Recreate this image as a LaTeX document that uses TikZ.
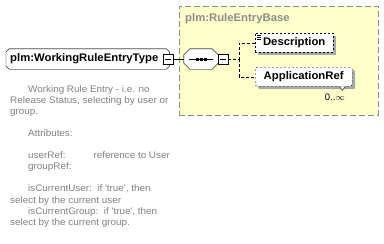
\documentclass[tikz,border=0pt]{standalone}
\usepackage{fontspec}
\setmainfont{Liberation Sans}
\newfontfamily\titlefont[FakeStretch=1.03]{Liberation Sans}
\newfontfamily\docfont[FakeStretch=1.04]{Liberation Sans}
\usetikzlibrary{shadows}
\definecolor{boxyellow}{HTML}{FFFFCC}
\definecolor{boxedge}{HTML}{8C8C8C}
\definecolor{shade}{HTML}{A8A8A8}
\definecolor{doctext}{HTML}{808080}
\newcommand\octpath[2]{([xshift=#2pt]#1.north west) -- ([xshift=-#2pt]#1.north east) -- ([yshift=-#2pt]#1.north east)
  -- ([yshift=#2pt]#1.south east) -- ([xshift=-#2pt]#1.south east) -- ([xshift=#2pt]#1.south west)
  -- ([yshift=#2pt]#1.south west) -- ([yshift=-#2pt]#1.north west) -- cycle}
\begin{document}
\begin{tikzpicture}[x=1pt,y=-1pt,
  elshadow/.style={copy shadow={shadow xshift=3pt,shadow yshift=-3pt,fill=shade,draw=none}},
  plainbox/.style={inner sep=0pt},
  minusbox/.style={draw=black,fill=white,inner sep=0pt,minimum width=10pt,minimum height=10pt},
  elbox/.style={draw=black,dash pattern=on 2pt off 2pt,fill=white,inner sep=0pt,minimum height=19pt,
     elshadow,font=\titlefont\bfseries\fontsize{11}{12}\selectfont},
  doc/.style={text=doctext,font=\docfont\fontsize{9.5}{11.1}\selectfont,align=left,anchor=north west,inner sep=0pt}
]
\useasboundingbox (0,0) rectangle (384,244);
% group box
\node[draw=boxedge,fill=boxyellow,dash pattern=on 6pt off 3pt,line width=0.9pt,
  minimum width=199pt,minimum height=109pt,inner sep=0pt,anchor=north west] (grp) at (179,6) {};
\node[anchor=west,text=boxedge,font=\titlefont\bfseries\fontsize{11}{12}\selectfont,inner sep=0pt] (grpt) at (185,19) {plm:RuleEntryBase};
% main element
\node[plainbox,minimum width=163pt,minimum height=20pt,anchor=west] (main) at (6,59) {};
\fill[shade,shift={(3,3)}] \octpath{main}{3};
\draw[fill=white] \octpath{main}{3};
\node[anchor=west,inner sep=0pt,font=\titlefont\bfseries\fontsize{11}{12}\selectfont] (maint) at (10,59) {plm:WorkingRuleEntryType};
\node[minusbox] (mainm) at (168,59) {};
\draw (mainm.west) ++(2,0) -- ++(6,0);
% sequence
\node[plainbox,minimum width=34pt,minimum height=20pt] (seq) at (201,59) {};
\fill[shade,shift={(3,3)}] \octpath{seq}{6};
\draw[fill=white] \octpath{seq}{6};
\draw (seq.center) ++(-12,0) -- ++(24,0);
\foreach \dx in {-4,0,4} \fill (seq.center) ++(\dx-1.5,-1.5) rectangle ++(3,3);
\node[minusbox] (seqm) at (223,59) {};
\draw (seqm.west) ++(2,0) -- ++(6,0);
\draw (mainm.east) -- (seq.west);
% children
\node[elbox,minimum width=78pt,anchor=north west] (desc) at (255,33) {Description};
\draw (desc.north west) ++(2,2) -- ++(4,0) ++(-4,2) -- ++(4,0) ++(-4,2) -- ++(4,0);
\node[elbox,rounded corners=2pt,minimum width=97pt,anchor=north west] (app) at (255,67) {ApplicationRef};
\draw[fill=white] (app.south east) ++(-13,0) -- ++(3,4) -- ++(3,-4);
\node[anchor=north east,inner sep=0pt,font=\fontsize{9.5}{10}\selectfont] (mult) at (345,94) {0..$\infty$};
\coordinate (fork) at (239,59);
\draw[dash pattern=on 3pt off 2pt] (seqm.east) -- (fork) |- (desc.west);
\draw[dash pattern=on 3pt off 2pt] (fork) |- (app.west);
% documentation
\node[doc] (d1) at (10,85) {\hspace*{18pt}Working Rule Entry - i.e. no\\Release Status, selecting by user or\\group.\\[11.1pt]
\hspace*{18pt}Attributes:\\[11.1pt]
\hspace*{18pt}userRef:\hspace*{28pt}reference to User\\\hspace*{18pt}groupRef:\\[11.1pt]
\hspace*{18pt}isCurrentUser:\ \ if 'true', then\\select by the current user\\\hspace*{18pt}isCurrentGroup:\ \ if 'true', then\\select by the current group.};
\end{tikzpicture}
\end{document}
